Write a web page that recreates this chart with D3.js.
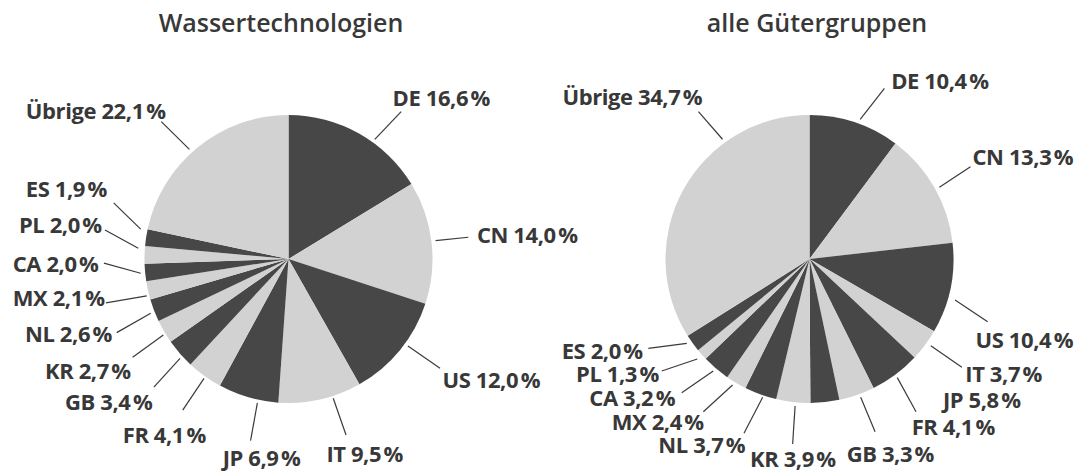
<!DOCTYPE html>
<html>
<head>
<meta charset="utf-8">
<script src="https://cdn.jsdelivr.net/npm/d3@7"></script>
<style>
  html, body { margin: 0; padding: 0; background: #ffffff; }
  svg { display: block; }
  .lbl { font-family: "Open Sans", sans-serif; font-weight: 700; font-size: 22px; fill: #383838; letter-spacing: -0.4px; }
  .ttl { font-family: "Open Sans", sans-serif; font-weight: 600; font-size: 25px; fill: #383838; }
</style>
</head>
<body>
<svg id="chart" width="1080" height="472"></svg>
<script>
// ---------- data ----------
const categories = ["DE", "CN", "US", "IT", "JP", "FR", "GB", "KR", "NL", "MX", "CA", "PL", "ES", "Übrige"];
const valuesWasser = [16.6, 14.0, 12.0, 9.5, 6.9, 4.1, 3.4, 2.7, 2.6, 2.1, 2.0, 2.0, 1.9, 22.1];
const valuesAlle   = [10.4, 13.3, 10.4, 3.7, 5.8, 4.1, 3.3, 3.9, 3.7, 2.4, 3.2, 1.3, 2.0, 34.7];
const titles = ["Wassertechnologien", "alle Gütergruppen"];

// ---------- layout (label placement, relative to each pie centre) ----------
// leader: [startAngleDeg, startRadius, endAngleDeg, endRadius] or null
const leadersWasser = [
  [35.8, 147.5, 37.4, 185.5], [82.9, 148.2, 83.1, 181.1], [126.1, 147.8, 125.8, 186.8],
  [162.2, 146.3, 161.9, 185.2], [192.2, 147.3, 191.8, 185.6], [215.3, 146.2, 215.0, 184.4],
  [227.5, 147.1, 226.4, 185.9], [238.7, 146.5, 237.8, 184.2], [248.5, 148.1, 246.8, 186.9],
  [255.4, 146.5, 256.5, 187.7], [264.5, 148.5, 268.7, 184.6], [274.1, 150.6, 279.0, 185.8],
  [281.4, 150.8, 287.8, 183.6], [317.9, 147.8, 317.2, 187.2]
];
// text position [dx, dy] of the text start / baseline
const textWasser = [
  [104.1, -153], [188.4, -15.7], [154, 128.7], [37.9, 202.7], [-65.8, 207], [-165.8, 183.7],
  [-223.5, 151], [-243.5, 120], [-263.5, 83.3], [-275.8, 47], [-275.8, 12.7], [-269.6, -25.7],
  [-262.7, -62.3], [-262.7, -140.3]
];
const leadersAlle = [
  [19.95, 148.6, 23.7, 186.4], [61.1, 148.4, 60.2, 185.5], [105.7, 151.2, 109.4, 188.9],
  [125.55, 149.1, 125.4, 186.9], [143.5, 147.6, 145.1, 186.2], [159.7, 147.5, 159.2, 184.7],
  null, [185.6, 147.7, 185.2, 185.8], [198.7, 146.0, 200.6, 186.2],
  [211.4, 147.6, 214.8, 186.0], [220.7, 147.6, 223.7, 185.0], [228.3, 150.3, 232.85, 185.4],
  [235.5, 148.9, 241.0, 184.3], [324.0, 148.0, 323.0, 184.5]
];
const textAlle = [
  [81.7, -170.3], [163, -94], [166.1, 89.3], [155.8, 122.7], [133.4, 149.3], [102.2, 176],
  [37.2, 202.7], [-59.5, 208], [-151.2, 194.3], [-197.8, 171], [-220.2, 147], [-233.5, 122.7],
  [-247.8, 100.3], [-247.1, -153.7]
];

const pies = [
  { title: titles[0], values: valuesWasser, cx: 288.5, cy: 259, r: 144, titleX: 281, leaders: leadersWasser, texts: textWasser },
  { title: titles[1], values: valuesAlle,   cx: 809.5, cy: 259, r: 144, titleX: 817, leaders: leadersAlle,   texts: textAlle }
];

const colours = ["#474747", "#d2d2d2"];
const locale = d3.formatLocale({ decimal: ",", thousands: ".", grouping: [3], currency: ["", "€"] });
const fmt = locale.format(".1f");
const rad = d => d * Math.PI / 180;

const svg = d3.select("#chart");

pies.forEach(p => {
  const data = categories.map((c, i) => ({ cat: c, value: p.values[i], i }));
  const pie = d3.pie().value(d => d.value).sort(null);
  const arcs = pie(data);
  const arc = d3.arc().innerRadius(0).outerRadius(p.r);

  const g = svg.append("g").attr("transform", `translate(${p.cx},${p.cy})`);

  g.selectAll("path.slice")
    .data(arcs)
    .join("path")
    .attr("class", "slice")
    .attr("d", arc)
    .attr("fill", d => colours[d.data.i % 2]);

  // leader lines
  g.selectAll("line.leader")
    .data(arcs.filter(d => p.leaders[d.data.i]))
    .join("line")
    .attr("class", "leader")
    .each(function (d) {
      const L = p.leaders[d.data.i];
      const s = d3.pointRadial(rad(L[0]), L[1]);
      const e = d3.pointRadial(rad(L[2]), L[3]);
      d3.select(this).attr("x1", s[0]).attr("y1", s[1]).attr("x2", e[0]).attr("y2", e[1]);
    })
    .attr("stroke", "#3a3a3a")
    .attr("stroke-width", 1.2);

  // labels
  g.selectAll("text.lbl")
    .data(arcs)
    .join("text")
    .attr("class", "lbl")
    .attr("x", d => p.texts[d.data.i][0])
    .attr("y", d => p.texts[d.data.i][1])
    .text(d => `${d.data.cat} ${fmt(d.data.value)}\u202F%`);

  svg.append("text")
    .attr("class", "ttl")
    .attr("x", p.titleX)
    .attr("y", 32)
    .attr("text-anchor", "middle")
    .text(p.title);
});
</script>
</body>
</html>
